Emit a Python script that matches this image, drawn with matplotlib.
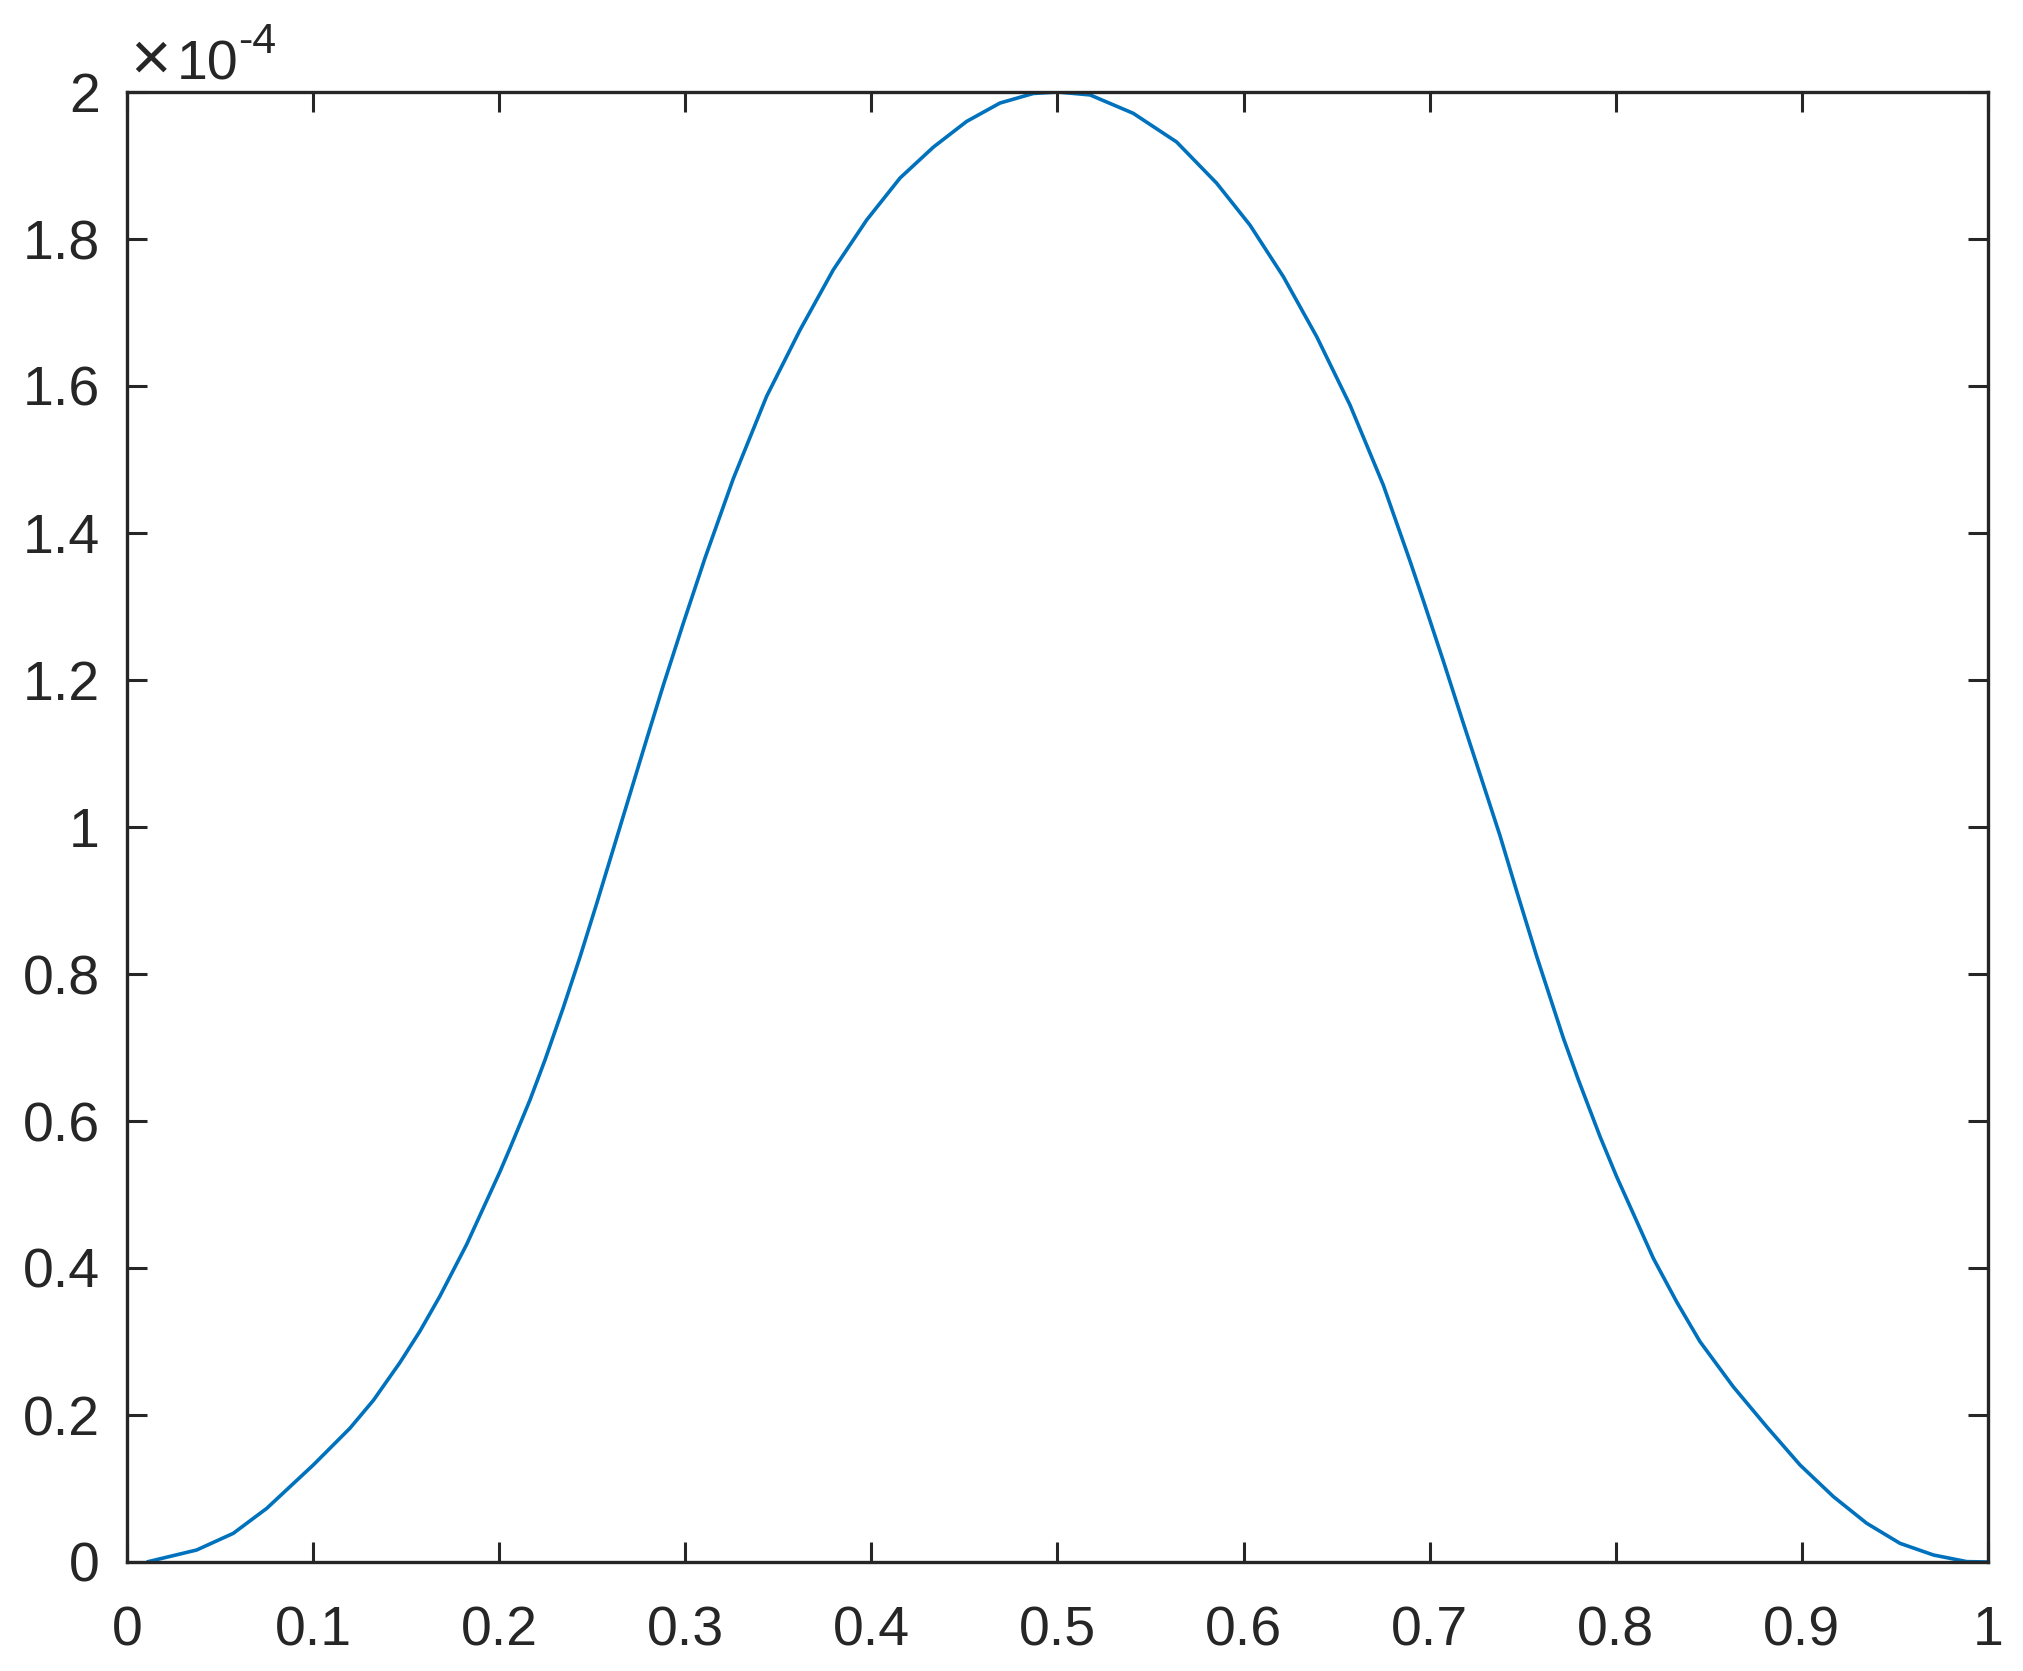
import matplotlib
matplotlib.use("Agg")
import matplotlib.pyplot as plt
from matplotlib.ticker import FuncFormatter
import numpy as np

# values (y in units of 1e-4)
x_vals = [0.0106, 0.0374, 0.0571, 0.0751, 0.1001, 0.1198, 0.1324, 0.1467, 0.1574,
          0.1682, 0.1825, 0.2004, 0.2058, 0.2166, 0.2246, 0.2344, 0.2434, 0.2524,
          0.2613, 0.2703, 0.2793, 0.2882, 0.2989, 0.3106, 0.3258, 0.3437, 0.3616,
          0.3795, 0.3975, 0.4154, 0.4333, 0.4512, 0.4691, 0.4870, 0.5000,
          0.5175, 0.5407, 0.5640, 0.5855, 0.6034, 0.6213, 0.6393, 0.6572, 0.6751,
          0.6894, 0.6966, 0.7073, 0.7181, 0.7288, 0.7378, 0.7467, 0.7575, 0.7718,
          0.7799, 0.7915, 0.8005, 0.8094, 0.8202, 0.8327, 0.8452, 0.8631, 0.8811,
          0.8990, 0.9169, 0.9348, 0.9527, 0.9707, 0.9886, 1.0000]
y_vals_e4 = [0.0, 0.0163, 0.039, 0.073, 0.132, 0.182, 0.220, 0.2715, 0.314,
             0.362, 0.432, 0.531, 0.563, 0.629, 0.683, 0.754, 0.823, 0.896,
             0.970, 1.045, 1.120, 1.193, 1.277, 1.366, 1.474, 1.586, 1.676,
             1.758, 1.826, 1.883, 1.925, 1.960, 1.985, 1.998, 2.000,
             1.996, 1.971, 1.932, 1.876, 1.819, 1.749, 1.667, 1.574, 1.465,
             1.362, 1.308, 1.226, 1.141, 1.058, 0.988, 0.913, 0.824, 0.713,
             0.656, 0.579, 0.524, 0.474, 0.413, 0.354, 0.300, 0.2385, 0.184,
             0.132, 0.089, 0.0527, 0.0254, 0.0095, 0.0005, 0.0]
scale_exp = -4

x_ticks = [0, 0.1, 0.2, 0.3, 0.4, 0.5, 0.6, 0.7, 0.8, 0.9, 1.0]
y_ticks_e4 = [0, 0.2, 0.4, 0.6, 0.8, 1.0, 1.2, 1.4, 1.6, 1.8, 2.0]

plt.rcParams['font.family'] = ['Liberation Sans', 'DejaVu Sans']

W, H, DPI = 2024, 1671, 200
fig = plt.figure(figsize=(W / DPI, H / DPI), dpi=DPI)
fig.patch.set_facecolor('white')

L, R, T, B = 127, 1988, 92, 1562
ax = fig.add_axes([L / W, 1 - B / H, (R - L) / W, (B - T) / H])

dark = '#262626'
y_vals = np.array(y_vals_e4) * 10.0 ** scale_exp
ax.plot(x_vals, y_vals, color='#0072BD', linewidth=1.3,
        solid_joinstyle='round', solid_capstyle='butt')

ax.set_xlim(0, 1)
ax.set_ylim(0, 2e-4)
ax.set_xticks(x_ticks)
ax.set_yticks(np.array(y_ticks_e4) * 10.0 ** scale_exp)
ax.xaxis.set_major_formatter(FuncFormatter(lambda v, p: f"{v:g}"))
ax.yaxis.set_major_formatter(FuncFormatter(lambda v, p: f"{round(v / 10.0 ** scale_exp, 6):g}"))

for s in ax.spines.values():
    s.set_color(dark)
    s.set_linewidth(1.2)

ax.tick_params(axis='both', which='major', direction='in', length=7.2, width=1.1,
               colors=dark, labelsize=20, top=True, right=True)
ax.tick_params(axis='x', pad=15.5)
ax.tick_params(axis='y', pad=9.7)

# exponent label (x10^-4) at top left
fig.text(130 / W, 1 - 80 / H, '\u00d7', fontsize=25, color=dark, ha='left', va='baseline')
fig.text(177 / W, 1 - 79 / H, '10', fontsize=20, color=dark, ha='left', va='baseline')
fig.text(238 / W, 1 - 53 / H, '-4', fontsize=15.5, color=dark, ha='left', va='baseline')

fig.savefig('out.png', dpi=DPI, facecolor='white')
